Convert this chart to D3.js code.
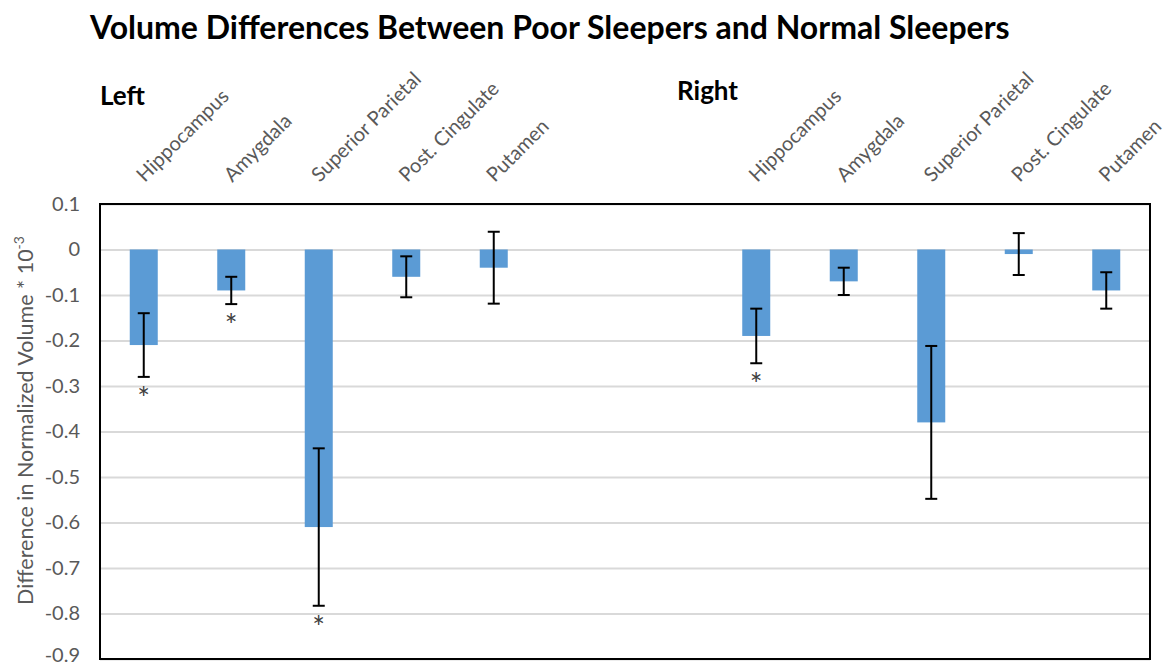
<!DOCTYPE html>
<html>
<head>
<meta charset="utf-8">
<script src="https://cdn.jsdelivr.net/npm/d3@7"></script>
<style>
  body { margin: 0; background: #fff; }
  svg text { font-family: Lato, "Open Sans", sans-serif; }
</style>
</head>
<body>
<div id="chart"></div>
<script>
const regions = ['Hippocampus', 'Amygdala', 'Superior Parietal', 'Post. Cingulate', 'Putamen'];

const leftValues = [-0.21, -0.09, -0.61, -0.06, -0.04];
const leftErrors = [0.07, 0.03, 0.173, 0.045, 0.079];
const leftStars = [true, true, true, false, false];

const rightValues = [-0.19, -0.07, -0.38, -0.01, -0.09];
const rightErrors = [0.06, 0.03, 0.168, 0.046, 0.04];
const rightStars = [true, false, false, false, false];

const yTicks = [0.1, 0, -0.1, -0.2, -0.3, -0.4, -0.5, -0.6, -0.7, -0.8, -0.9];
const gapKeys = ['gap1', 'gap2'];

const margin = {
  top: 204,
  right: 16,
  bottom: 8,
  left: 100,
};
const width = 1166 - margin.left - margin.right;
const height = 667 - margin.top - margin.bottom;

const rows = [
  ...regions.map((r, i) => ({
    key: `L-${r}`, name: r, value: leftValues[i], err: leftErrors[i], star: leftStars[i],
  })),
  ...regions.map((r, i) => ({
    key: `R-${r}`, name: r, value: rightValues[i], err: rightErrors[i], star: rightStars[i],
  })),
];
const domain = [
  ...rows.slice(0, 5).map(d => d.key),
  ...gapKeys,
  ...rows.slice(5).map(d => d.key),
];

const x = d3.scaleBand()
  .domain(domain)
  .range([0, width])
  .paddingInner(0.68)
  .paddingOuter(0.34);
const y = d3.scaleLinear()
  .domain([-0.9, 0.1])
  .range([height, 0]);

const root = d3.select('#chart').append('svg')
  .attr('width', 1166)
  .attr('height', 667);

root.append('text')
  .attr('x', 90)
  .attr('y', 39)
  .attr('font-size', 32)
  .attr('font-weight', 'bold')
  .attr('fill', '#000')
  .text('Volume Differences Between Poor Sleepers and Normal Sleepers');

root.append('text')
  .attr('x', 100)
  .attr('y', 105)
  .attr('font-size', 26)
  .attr('font-weight', 'bold')
  .text('Left');

root.append('text')
  .attr('x', 677)
  .attr('y', 100)
  .attr('font-size', 26)
  .attr('font-weight', 'bold')
  .text('Right');

root.append('text')
  .attr('transform', `translate(33,${margin.top + height / 2 - 11}) rotate(-90)`)
  .attr('text-anchor', 'middle')
  .attr('font-size', 21.5)
  .attr('fill', '#595959')
  .call((t) => {
    t.append('tspan').text('Difference in Normalized Volume * 10');
    t.append('tspan')
      .attr('dy', -9)
      .attr('font-size', 14)
      .text('-3');
  });

const svg = root.append('g')
  .attr('transform', `translate(${margin.left},${margin.top})`);

// gridlines + tick labels
const yAxis = svg.append('g')
  .call(d3.axisLeft(y)
    .tickValues(yTicks)
    .tickFormat(d => `${d}`)
    .tickSize(-width)
    .tickPadding(20));
yAxis.select('.domain').remove();
yAxis.selectAll('line')
  .attr('stroke', '#d9d9d9')
  .attr('stroke-width', 2);
yAxis.selectAll('text')
  .attr('font-size', 20)
  .attr('fill', '#595959');
// lowest label sits on the page edge, lift it a little
yAxis.selectAll('text')
  .filter(d => d === yTicks[yTicks.length - 1])
  .attr('dy', '0.12em');

svg.selectAll('.bar')
  .data(rows)
  .enter().append('rect')
  .attr('class', 'bar')
  .attr('x', d => x(d.key))
  .attr('width', x.bandwidth())
  .attr('y', d => y(Math.max(0, d.value)))
  .attr('height', d => Math.abs(y(d.value) - y(0)))
  .attr('fill', '#5b9bd5');

const cap = 6;
const err = svg.selectAll('.err')
  .data(rows)
  .enter().append('g')
  .attr('class', 'err')
  .attr('stroke', '#000')
  .attr('stroke-width', 2);
err.append('line')
  .attr('x1', d => x(d.key) + x.bandwidth() / 2)
  .attr('x2', d => x(d.key) + x.bandwidth() / 2)
  .attr('y1', d => y(d.value + d.err))
  .attr('y2', d => y(d.value - d.err));
err.append('line')
  .attr('x1', d => x(d.key) + x.bandwidth() / 2 - cap)
  .attr('x2', d => x(d.key) + x.bandwidth() / 2 + cap)
  .attr('y1', d => y(d.value + d.err))
  .attr('y2', d => y(d.value + d.err));
err.append('line')
  .attr('x1', d => x(d.key) + x.bandwidth() / 2 - cap)
  .attr('x2', d => x(d.key) + x.bandwidth() / 2 + cap)
  .attr('y1', d => y(d.value - d.err))
  .attr('y2', d => y(d.value - d.err));

svg.selectAll('.star')
  .data(rows.filter(d => d.star))
  .enter().append('text')
  .attr('class', 'star')
  .attr('x', d => x(d.key) + x.bandwidth() / 2)
  .attr('y', d => y(d.value - d.err) + 32)
  .attr('text-anchor', 'middle')
  .attr('font-size', 30)
  .attr('fill', '#404040')
  .text('*');

// category labels above the plot
svg.selectAll('.cat')
  .data(rows)
  .enter().append('text')
  .attr('class', 'cat')
  .attr('transform', d => `translate(${x(d.key) + x.bandwidth() / 2 + 1},${183 - margin.top}) rotate(-45)`)
  .attr('font-size', 20)
  .attr('fill', '#595959')
  .text(d => d.name);

svg.append('rect')
  .attr('width', width)
  .attr('height', height)
  .attr('fill', 'none')
  .attr('stroke', '#000')
  .attr('stroke-width', 2);
</script>
</body>
</html>
